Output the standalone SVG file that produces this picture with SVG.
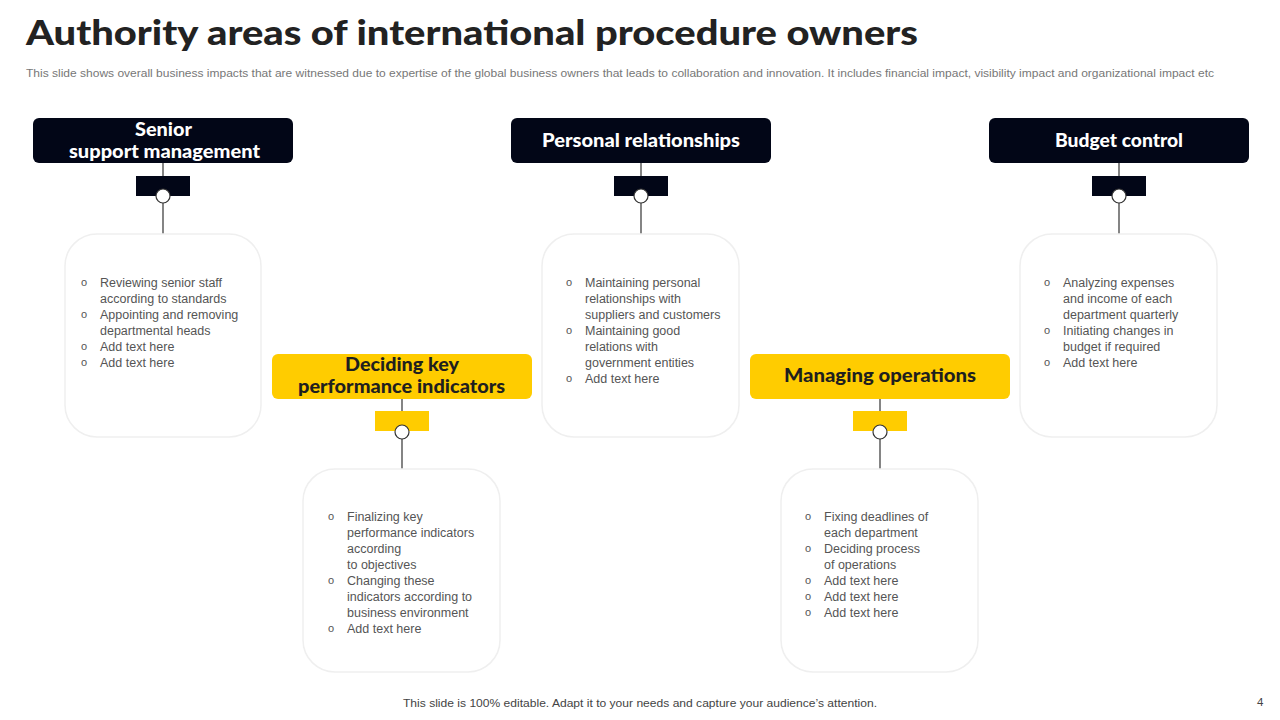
<svg xmlns="http://www.w3.org/2000/svg" width="1280" height="720" viewBox="0 0 1280 720">
<style>
.title{font-family:Lato,"Liberation Sans",sans-serif;font-weight:900;font-size:35px;fill:#222}
.sub{font-family:"Liberation Sans",Arial,sans-serif;font-size:11px;fill:#777}
.hd{font-family:Lato,"Liberation Sans",sans-serif;font-weight:900;font-size:18px}
.hw{fill:#fff}.hy{fill:#1f1f1f}
.dark{fill:#020617}.yel{fill:#FFCC00}
.card{fill:#fff;stroke:#efefef;stroke-width:1.5}
.ln{stroke:#333;stroke-width:1.2;fill:none}
.dot{fill:#fff;stroke:#333;stroke-width:1.2}
.bt{font-family:"Liberation Sans",Arial,sans-serif;font-size:12.5px;fill:#555}
.bl{font-family:"Liberation Sans",Arial,sans-serif;font-size:11px;fill:#555}
.ft{font-family:"Liberation Sans",Arial,sans-serif;font-size:11.5px;fill:#444}
</style>
<rect width="1280" height="720" fill="#fff"/>
<text class="title" x="26" y="45" textLength="892" lengthAdjust="spacingAndGlyphs">Authority areas of international procedure owners</text>
<text class="sub" x="26" y="77" textLength="1188" lengthAdjust="spacingAndGlyphs">This slide shows overall business impacts that are witnessed due to expertise of the global business owners that leads to collaboration and innovation. It includes financial impact, visibility impact and organizational impact etc</text>

<g id="connectors">
<line class="ln" x1="163" y1="163" x2="163" y2="176"/><line class="ln" x1="163" y1="203" x2="163" y2="234"/>
<line class="ln" x1="641" y1="163" x2="641" y2="176"/><line class="ln" x1="641" y1="203" x2="641" y2="234"/>
<line class="ln" x1="1119" y1="163" x2="1119" y2="176"/><line class="ln" x1="1119" y1="203" x2="1119" y2="234"/>
<line class="ln" x1="402" y1="399" x2="402" y2="411"/><line class="ln" x1="402" y1="439" x2="402" y2="469"/>
<line class="ln" x1="880" y1="399" x2="880" y2="411"/><line class="ln" x1="880" y1="439" x2="880" y2="469"/>
</g>

<g id="senior">
<rect class="dark" x="33" y="118" width="260" height="45" rx="6"/>
<text class="hd hw" x="135" y="136" textLength="57" lengthAdjust="spacingAndGlyphs">Senior</text>
<text class="hd hw" x="69" y="158" textLength="191" lengthAdjust="spacingAndGlyphs">support management</text>
<rect class="dark" x="136" y="176" width="54" height="20"/>
<circle class="dot" cx="163" cy="196" r="7"/>
<rect class="card" x="65" y="234" width="196" height="203" rx="32"/>
<g class="bl"><text x="81" y="286">o</text><text x="81" y="318">o</text><text x="81" y="350">o</text><text x="81" y="366">o</text></g>
<g class="bt"><text x="100" y="287">Reviewing  senior staff</text><text x="100" y="303">according to standards</text><text x="100" y="319">Appointing and removing</text><text x="100" y="335">departmental  heads</text><text x="100" y="351">Add text here</text><text x="100" y="367">Add text here</text></g>
</g>

<g id="personal">
<rect class="dark" x="511" y="118" width="260" height="45" rx="6"/>
<text class="hd hw" x="542" y="147" textLength="198" lengthAdjust="spacingAndGlyphs">Personal relationships</text>
<rect class="dark" x="614" y="176" width="54" height="20"/>
<circle class="dot" cx="641" cy="196" r="7"/>
<rect class="card" x="542" y="234" width="197" height="203" rx="32"/>
<g class="bl"><text x="566" y="286">o</text><text x="566" y="334">o</text><text x="566" y="382">o</text></g>
<g class="bt"><text x="585" y="287">Maintaining personal</text><text x="585" y="303">relationships with</text><text x="585" y="319">suppliers and customers</text><text x="585" y="335">Maintaining good</text><text x="585" y="351">relations with</text><text x="585" y="367">government  entities</text><text x="585" y="383">Add text here</text></g>
</g>

<g id="budget">
<rect class="dark" x="989" y="118" width="260" height="45" rx="6"/>
<text class="hd hw" x="1055" y="147" textLength="128" lengthAdjust="spacingAndGlyphs">Budget control</text>
<rect class="dark" x="1092" y="176" width="54" height="20"/>
<circle class="dot" cx="1119" cy="196" r="7"/>
<rect class="card" x="1020" y="234" width="197" height="203" rx="32"/>
<g class="bl"><text x="1044" y="286">o</text><text x="1044" y="334">o</text><text x="1044" y="366">o</text></g>
<g class="bt"><text x="1063" y="287">Analyzing expenses</text><text x="1063" y="303">and income of each</text><text x="1063" y="319">department  quarterly</text><text x="1063" y="335">Initiating changes in</text><text x="1063" y="351">budget  if required</text><text x="1063" y="367">Add text here</text></g>
</g>

<g id="kpi">
<rect class="yel" x="272" y="354" width="260" height="45" rx="6"/>
<text class="hd hy" x="345" y="371" textLength="114" lengthAdjust="spacingAndGlyphs">Deciding key</text>
<text class="hd hy" x="298" y="393" textLength="207" lengthAdjust="spacingAndGlyphs">performance indicators</text>
<rect class="yel" x="375" y="411" width="54" height="20"/>
<circle class="dot" cx="402" cy="432" r="7"/>
<rect class="card" x="303" y="469" width="197" height="203" rx="32"/>
<g class="bl"><text x="328" y="520">o</text><text x="328" y="584">o</text><text x="328" y="632">o</text></g>
<g class="bt"><text x="347" y="521">Finalizing key</text><text x="347" y="537">performance  indicators</text><text x="347" y="553">according</text><text x="347" y="569">to objectives</text><text x="347" y="585">Changing these</text><text x="347" y="601">indicators according to</text><text x="347" y="617">business environment</text><text x="347" y="633">Add text here</text></g>
</g>

<g id="operations">
<rect class="yel" x="750" y="354" width="260" height="45" rx="6"/>
<text class="hd hy" x="784" y="382" textLength="192" lengthAdjust="spacingAndGlyphs">Managing operations</text>
<rect class="yel" x="853" y="411" width="54" height="20"/>
<circle class="dot" cx="880" cy="432" r="7"/>
<rect class="card" x="781" y="469" width="197" height="203" rx="32"/>
<g class="bl"><text x="805" y="520">o</text><text x="805" y="552">o</text><text x="805" y="584">o</text><text x="805" y="600">o</text><text x="805" y="616">o</text></g>
<g class="bt"><text x="824" y="521">Fixing deadlines of</text><text x="824" y="537">each department</text><text x="824" y="553">Deciding process</text><text x="824" y="569">of operations</text><text x="824" y="585">Add text here</text><text x="824" y="601">Add text here</text><text x="824" y="617">Add text here</text></g>
</g>

<text class="ft" x="403" y="707" textLength="474" lengthAdjust="spacingAndGlyphs">This slide is 100% editable. Adapt it to your needs and capture your audience’s attention.</text>
<text class="ft" x="1257" y="706">4</text>
</svg>
